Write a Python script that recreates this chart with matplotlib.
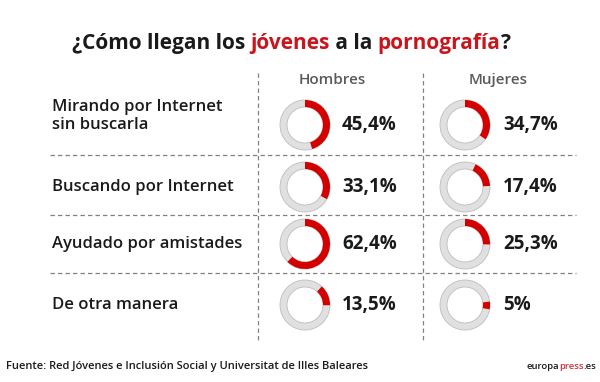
import matplotlib.pyplot as plt
from matplotlib.patches import Wedge

plt.rcParams['font.family'] = ['Open Sans', 'DejaVu Sans']

categorias = ['Mirando por Internet\nsin buscarla', 'Buscando por Internet',
              'Ayudado por amistades', 'De otra manera']
hombres = [45.4, 33.1, 62.4, 13.5]
mujeres = [34.7, 17.4, 25.3, 5.0]
etiq_hombres = ['45,4%', '33,1%', '62,4%', '13,5%']
etiq_mujeres = ['34,7%', '17,4%', '25,3%', '5%']
columnas = ['Hombres', 'Mujeres']

# where each red arc starts (degrees clockwise from the top), as drawn in the original
inicio_h = [0, 0, 0, 42]
inicio_m = [0, 25, 0, 82]

ROJO = '#d40000'
ROJO_T = '#c8161d'
GRIS = '#e0e0e0'
TXT = '#1a1a1a'

fig = plt.figure(figsize=(6, 3.82), dpi=100)
ax = fig.add_axes([0, 0, 1, 1])
ax.set_xlim(0, 600)
ax.set_ylim(382, 0)
ax.axis('off')

fil_y = [125, 187, 244, 305]
col_x = [305, 465]
col_txt = [342, 503]
col_head = [332, 498]

fig.canvas.draw()
r = fig.canvas.get_renderer()


def ancho(s, size, weight):
    if not s:
        return 0
    tmp = ax.text(0, 0, s, fontsize=size, fontweight=weight)
    bb = tmp.get_window_extent(renderer=r)
    tmp.remove()
    return bb.width * 600 / fig.bbox.width


def trozos(x, y, partes, size, weight, align_right=False):
    # coloured pieces of one line; offset of a piece = width(prefix + its first char) - width(first char)
    if align_right:
        x = x - ancho(''.join(p[0] for p in partes), size, weight)
    prev = ''
    for s, c in partes:
        dx = ancho(prev + s[0], size, weight) - ancho(s[0], size, weight) if prev else 0
        ax.text(x + dx, y, s, color=c, fontsize=size,
                fontweight=weight, va='baseline', ha='left')
        prev += s


trozos(72, 49, [('¿Cómo llegan los ', TXT), ('jóvenes', ROJO_T), (' a la ', TXT),
                ('pornografía', ROJO_T), ('?', TXT)], 15, 'bold')

for cx, name in zip(col_head, columnas):
    ax.text(cx, 80, name, color='#5a5a5a', fontsize=11, fontweight='semibold',
            ha='center', va='center')

# grid
dash = dict(color='#808080', lw=0.9, ls=(0, (3.5, 2.5)))
for xv in [258, 423]:
    ax.plot([xv, xv], [73, 340], **dash)
for yv in [155, 215, 273]:
    ax.plot([50, 576], [yv, yv], **dash)


def anillo(cx, cy, pct, start):
    ax.add_patch(Wedge((cx, cy), 25, 0, 360, width=7, facecolor=GRIS,
                       edgecolor='#bdbdbd', lw=0.6))
    a1 = -90 + start
    a2 = a1 + pct * 3.6
    ax.add_patch(Wedge((cx, cy), 25, a1, a2, width=7, facecolor=ROJO,
                       edgecolor='none'))


for i, cat in enumerate(categorias):
    y = fil_y[i]
    ax.text(52, y - 9 if '\n' in cat else y, cat, fontsize=12, fontweight='semibold',
            color=TXT, ha='left', va='center', linespacing=1.1)
    anillo(col_x[0], y, hombres[i], inicio_h[i])
    anillo(col_x[1], y, mujeres[i], inicio_m[i])
    ax.text(col_txt[0], y, etiq_hombres[i], fontsize=13.5, fontweight='bold',
            color=TXT, ha='left', va='center')
    ax.text(col_txt[1], y, etiq_mujeres[i], fontsize=13.5, fontweight='bold',
            color=TXT, ha='left', va='center')

ax.text(6, 369, 'Fuente: Red Jóvenes e Inclusión Social y Universitat de Illes Baleares',
        fontsize=8, fontweight='semibold', color=TXT, ha='left', va='baseline')

trozos(596, 369, [('europa', TXT), ('press', '#d2323c'), ('.es', TXT)], 6.8,
       'semibold', align_right=True)

fig.savefig('out.png', dpi=100, facecolor='white')
